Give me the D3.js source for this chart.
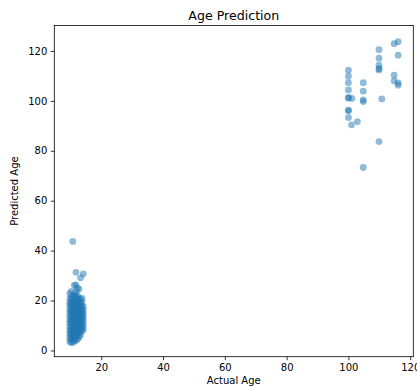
<!DOCTYPE html>
<html>
<head>
<meta charset="utf-8">
<script src="https://cdn.jsdelivr.net/npm/d3@7"></script>
<style>
  body { margin: 0; background: #fff; }
  text { font-family: "DejaVu Sans", sans-serif; }
</style>
</head>
<body>
<script>
// upper group: actual age -> predicted ages
const oldAges = [100, 100, 100, 100, 100, 100, 100, 100, 100, 101.1, 101, 102.9,
  104.8, 104.8, 104.8, 104.8, 104.8,
  109.9, 109.9, 109.9, 109.9, 109.9, 109.9, 110.8,
  114.8, 116.1, 116.1, 114.8, 114.8, 116.1, 116.1];
const oldPred = [112.3, 109.9, 107.3, 104.4, 101.1, 101.4, 96.3, 96.0, 93.3, 101.0, 90.4, 91.7,
  107.3, 103.9, 100.4, 99.7, 73.3,
  120.5, 117.1, 114.3, 112.9, 112.4, 83.7, 100.8,
  122.9, 123.7, 118.3, 110.3, 108.0, 107.2, 106.3];

// lower group, one column per actual age
const youngAges = [9.8, 10.3, 10.8, 11.3, 11.8, 12.3, 12.8, 13.3, 13.8, 14.2];
const youngPred = [
  [3.6, 5.1, 6.6, 7.9, 9.4, 10.8, 12.1, 13.7, 15.0, 16.4, 17.9, 19.1, 20.6, 22.8],
  [3.1, 4.4, 5.9, 7.2, 8.5, 9.9, 11.6, 12.7, 14.2, 15.8, 16.9, 18.3, 19.8, 21.4, 23.7],
  [3.3, 4.8, 6.1, 7.6, 9.0, 10.3, 11.9, 13.1, 14.6, 16.0, 17.5, 18.9, 20.3, 21.9, 43.7],
  [3.8, 5.2, 6.7, 8.1, 9.5, 11.0, 12.4, 13.8, 15.3, 16.7, 18.1, 19.6, 21.2, 22.4, 26.1],
  [4.1, 5.5, 7.0, 8.4, 9.8, 11.3, 12.6, 14.1, 15.5, 17.0, 18.4, 19.9, 21.7, 23.5, 26.3, 31.3],
  [4.5, 6.0, 7.4, 8.9, 10.2, 11.7, 13.0, 14.5, 15.9, 17.3, 18.8, 20.2, 22.1, 25.0],
  [5.3, 6.8, 8.2, 9.6, 11.0, 12.5, 13.9, 15.4, 16.8, 18.2, 19.7, 21.0, 24.6],
  [6.2, 7.7, 9.1, 10.5, 12.0, 13.4, 14.9, 16.3, 17.6, 19.2, 20.5, 29.1],
  [7.8, 9.3, 10.7, 12.2, 13.6, 15.1, 16.5, 18.0, 19.4, 20.9],
  [8.4, 9.9, 11.5, 13.0, 14.4, 16.0, 17.5, 30.7]
];

const xTicks = [20, 40, 60, 80, 100, 120];
const yTicks = [0, 20, 40, 60, 80, 100, 120];

const points = [];
oldAges.forEach((a, i) => points.push([a, oldPred[i]]));
youngAges.forEach((a, i) => youngPred[i].forEach(p => points.push([a, p])));

const width = 417, height = 388;
const m = { left: 54.3, right: 413.3, top: 25.5, bottom: 356.7 };

const svg = d3.select("body").append("svg")
  .attr("width", width).attr("height", height);

const x = d3.scaleLinear().domain([4.8, 121]).range([m.left, m.right]);
const y = d3.scaleLinear().domain([-2.5, 130.2]).range([m.bottom, m.top]);

svg.append("g")
  .selectAll("circle")
  .data(points)
  .enter()
  .append("circle")
  .attr("cx", d => x(d[0]))
  .attr("cy", d => y(d[1]))
  .attr("r", 3.4)
  .style("fill", "#1f77b4")
  .style("fill-opacity", 0.5);

const xAxis = svg.append("g")
  .attr("transform", `translate(0,${m.bottom})`)
  .call(d3.axisBottom(x).tickValues(xTicks).tickSize(3.5).tickPadding(3.5).tickFormat(d3.format("d")));
const yAxis = svg.append("g")
  .attr("transform", `translate(${m.left},0)`)
  .call(d3.axisLeft(y).tickValues(yTicks).tickSize(3.5).tickPadding(3.5).tickFormat(d3.format("d")));

[xAxis, yAxis].forEach(g => {
  g.select(".domain").remove();
  g.selectAll("line").attr("stroke", "#000").attr("stroke-width", 0.8);
  g.selectAll("text").attr("fill", "#000").style("font-size", "10px")
    .style("font-family", "DejaVu Sans, sans-serif");
});

// frame
svg.append("rect")
  .attr("x", m.left).attr("y", m.top)
  .attr("width", m.right - m.left).attr("height", m.bottom - m.top)
  .style("fill", "none").style("stroke", "#000").style("stroke-width", 0.8);

svg.append("text")
  .attr("x", (m.left + m.right) / 2).attr("y", 19.5)
  .attr("text-anchor", "middle")
  .style("font-size", "12.6px")
  .text("Age Prediction");

svg.append("text")
  .attr("x", (m.left + m.right) / 2).attr("y", 384)
  .attr("text-anchor", "middle")
  .style("font-size", "10px")
  .text("Actual Age");

svg.append("text")
  .attr("transform", `translate(18,${(m.top + m.bottom) / 2}) rotate(-90)`)
  .attr("text-anchor", "middle")
  .style("font-size", "10px")
  .text("Predicted Age");
</script>
</body>
</html>
